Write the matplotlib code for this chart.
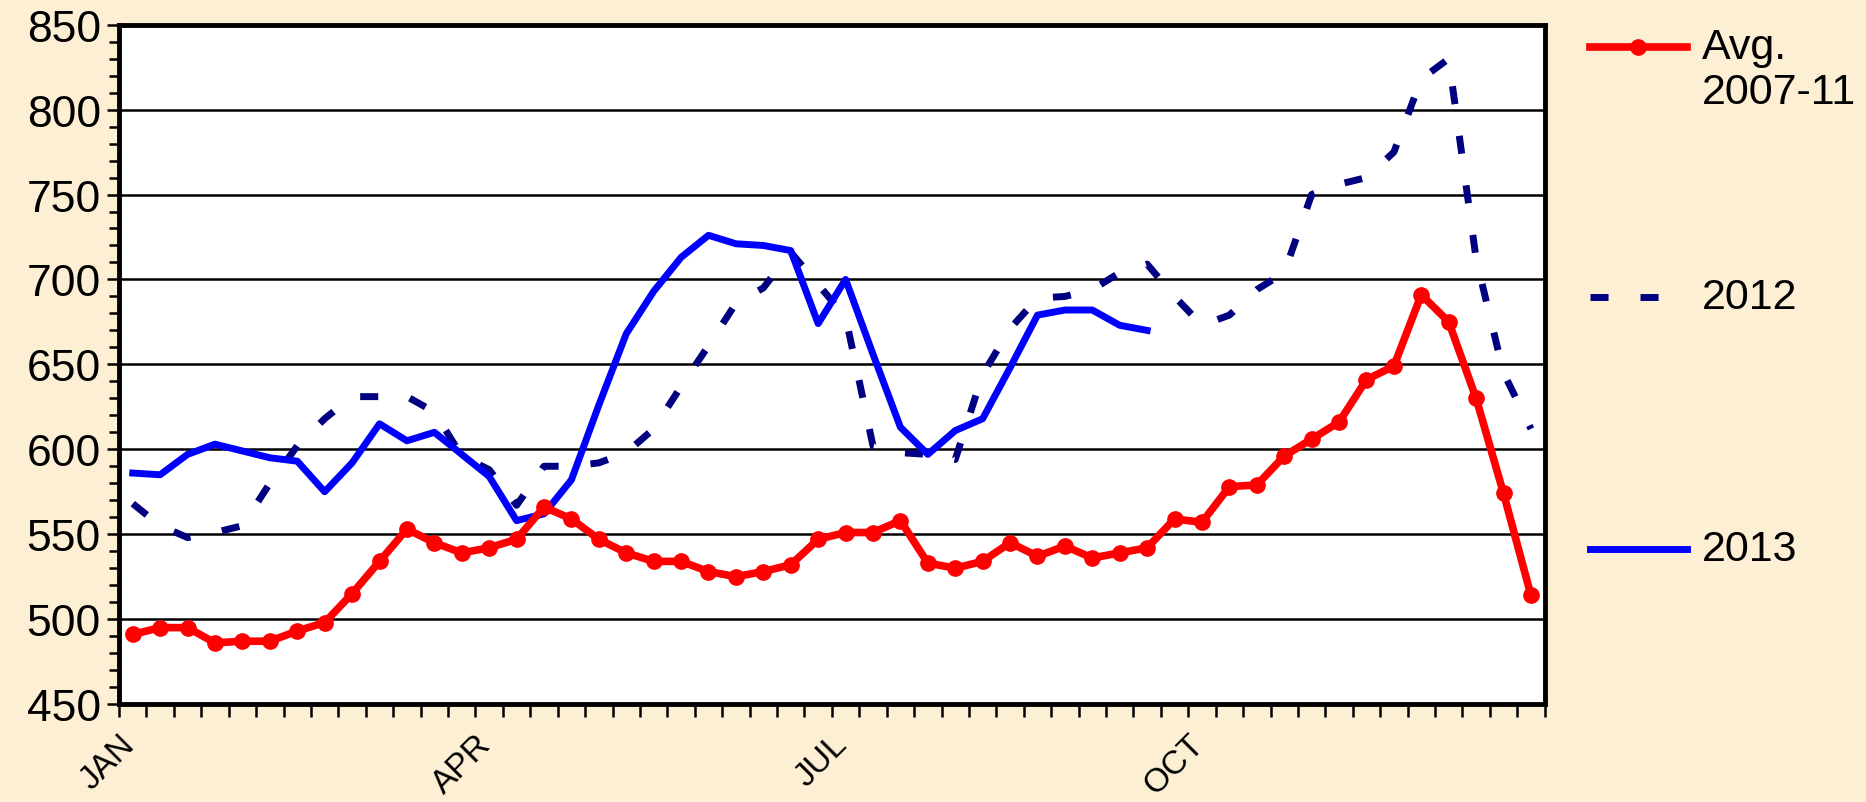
import numpy as np
import matplotlib
matplotlib.use("Agg")
import matplotlib.pyplot as plt
from matplotlib.lines import Line2D
from matplotlib.ticker import MultipleLocator, FixedLocator, NullLocator

plt.rcParams['font.family'] = ['Liberation Sans', 'DejaVu Sans']

# weekly values, 52 weeks
weeks = np.arange(52)
month_labels = ['JAN', 'APR', 'JUL', 'OCT']
month_pos = [0, 13, 26, 39]

avg_0711 = [491, 495, 495, 486, 487, 487, 493, 498, 515, 534,
            553, 545, 539, 542, 547, 566, 559, 547, 539, 534,
            534, 528, 525, 528, 532, 547, 551, 551, 558, 533,
            530, 534, 545, 537, 543, 536, 539, 542, 559, 557,
            578, 579, 596, 606, 616, 641, 649, 691, 675, 630,
            574, 514]

y2012 = [568, 555, 548, 551, 555, 580, 602, 618, 631, 631,
         631, 622, 596, 588, 567, 590, 590, 592, 598, 612,
         637, 661, 686, 695, 716, 697, 678, 602, 598, 597,
         594, 644, 671, 689, 690, 694, 704, 709, 690, 673,
         679, 694, 704, 750, 756, 760, 775, 818, 830, 712,
         645, 612]

y2013 = [586, 585, 597, 603, 599, 595, 593, 575, 592, 615,
         605, 610, 597, 584, 558, 562, 582, 626, 668, 693,
         713, 726, 721, 720, 717, 674, 700, 656, 613, 597,
         611, 618, 648, 679, 682, 682, 673, 670]

series_names = ['Avg.\n2007-11', '2012', '2013']

bg = '#FCEFD4'
red = '#FF0000'
navy = '#000080'
blue = '#0000FF'

fig = plt.figure(figsize=(18.66, 8.03), dpi=100, facecolor=bg)
ax = fig.add_axes([0.0638, 0.122, 0.764, 0.846])
ax.set_facecolor('white')

# lines
ax.plot(weeks, y2012, color=navy, lw=5, dashes=(2.6, 4.6),
        dash_capstyle='butt', zorder=3)
ax.plot(weeks[:len(y2013)], y2013, color=blue, lw=5, zorder=4)
ax.plot(weeks, avg_0711, color=red, lw=5.5, marker='o', ms=11,
        zorder=5)

ax.set_xlim(-0.5, 51.5)
ax.set_ylim(450, 850)

# y axis
ax.yaxis.set_major_locator(MultipleLocator(50))
ax.yaxis.set_minor_locator(MultipleLocator(10))
ax.grid(axis='y', which='major', color='black', lw=1.8, zorder=1)
ax.tick_params(axis='y', which='major', direction='out', length=9,
               width=1.8, labelsize=32, pad=4)
ax.tick_params(axis='y', which='minor', direction='out', length=7,
               width=1.8)

# x axis: tick marks between weeks, month labels every 13 weeks
ax.xaxis.set_major_locator(FixedLocator(np.arange(-0.5, 52, 1)))
ax.xaxis.set_minor_locator(NullLocator())
ax.tick_params(axis='x', which='major', direction='out', length=9,
               width=1.8, labelbottom=False)
xlab_tr = ax.get_xaxis_transform()
for p, lab in zip(month_pos, month_labels):
    ax.text(p - 0.5, -0.036, lab, transform=xlab_tr, rotation=45,
            ha='right', va='top', rotation_mode='anchor', fontsize=24,
            clip_on=False)

for s in ax.spines.values():
    s.set_linewidth(3.5)
    s.set_color('black')

# legend drawn on the right side
lx0, lx1, tx = 0.852, 0.904, 0.912
fig.add_artist(Line2D([lx0, lx1], [0.94, 0.94], transform=fig.transFigure,
                      color=red, lw=5.5))
fig.add_artist(Line2D([(lx0 + lx1) / 2], [0.94], transform=fig.transFigure,
                      color=red, marker='o', ms=11))
fig.text(tx, 0.94, 'Avg.', fontsize=31, va='center', ha='left')
fig.text(tx, 0.884, '2007-11', fontsize=31, va='center', ha='left')
fig.add_artist(Line2D([lx0, lx1], [0.629, 0.629], transform=fig.transFigure,
                      color=navy, lw=5, dashes=(2.6, 4.6),
                      dash_capstyle='butt'))
fig.text(tx, 0.629, series_names[1], fontsize=31, va='center', ha='left')
fig.add_artist(Line2D([lx0, lx1], [0.315, 0.315], transform=fig.transFigure,
                      color=blue, lw=5))
fig.text(tx, 0.315, series_names[2], fontsize=31, va='center', ha='left')

fig.savefig('out.png', dpi=100, facecolor=bg)
